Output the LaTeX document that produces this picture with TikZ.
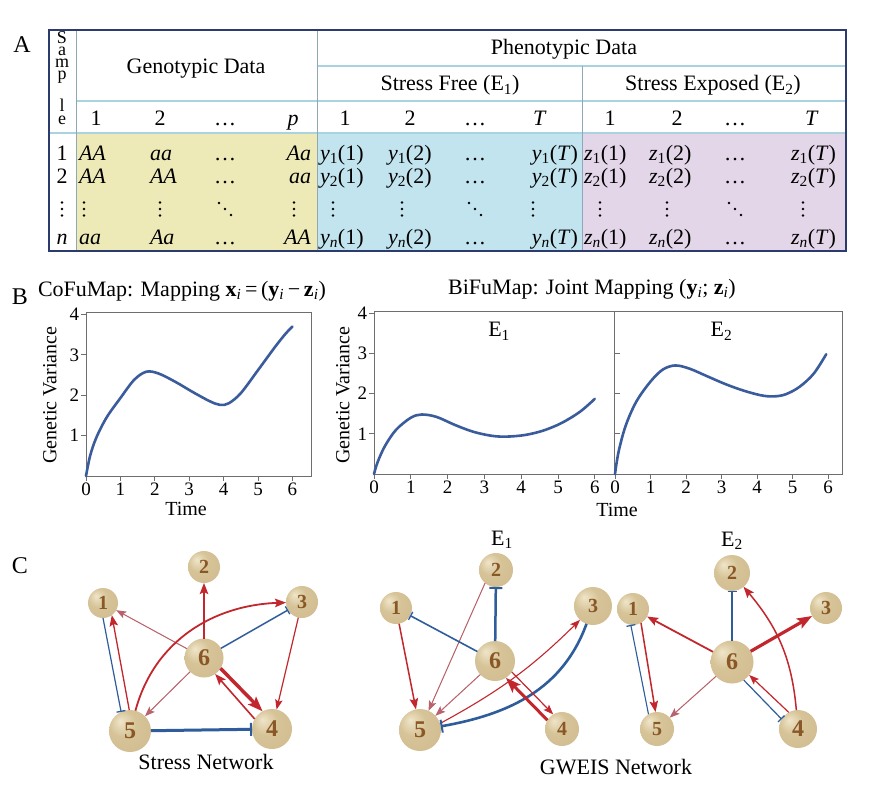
\documentclass[tikz,border=0pt]{standalone}
\usepackage{fontspec}
\setmainfont{Liberation Serif}
\usetikzlibrary{arrows.meta}
\definecolor{navy}{HTML}{2B3B6E}
\definecolor{gridb}{HTML}{A9D3DF}
\definecolor{vline}{HTML}{8FA8B8}
\definecolor{yel}{HTML}{EDEAB8}
\definecolor{cyanc}{HTML}{C2E4EF}
\definecolor{lav}{HTML}{E4D6E9}
\definecolor{curvec}{HTML}{3A5C9C}
\definecolor{axisg}{HTML}{6E6E6E}
\definecolor{netred}{HTML}{C3272E}
\definecolor{netpink}{HTML}{B9626B}
\definecolor{netblue}{HTML}{2F5C9B}
\definecolor{numbrown}{HTML}{8A5726}
\definecolor{gA}{HTML}{EFE5C9}
\definecolor{gB}{HTML}{D6C397}
\definecolor{gC}{HTML}{B99F70}
\pgfdeclareradialshading{goldball}{\pgfpoint{-12bp}{12bp}}{color(0bp)=(gA); color(16bp)=(gB); color(38bp)=(gB!80!gC); color(55bp)=(gC)}
\newcommand{\sbi}{\textsubscript{\textit{i}}}
\begin{document}
\begin{tikzpicture}[x=1pt,y=-1pt,
  every node/.style={inner sep=0pt, outer sep=0pt},
  font=\fontsize{22}{26}\selectfont,
  ball/.style={circle, shading=goldball, text=numbrown, font=\fontsize{20}{20}\selectfont\bfseries},
  ballL/.style={ball, font=\fontsize{24}{24}\selectfont\bfseries},
  ticklab/.style={font=\fontsize{19}{19}\selectfont},
  axlab/.style={font=\fontsize{20}{20}\selectfont},
  redM/.style={draw=netred, -{Stealth[length=11pt,width=8.5pt,inset=2pt]}},
  redS/.style={draw=netred, -{Stealth[length=10pt,width=7.5pt,inset=2pt]}},
  redB/.style={draw=netred, -{Stealth[length=15pt,width=11pt,inset=3pt]}},
  pinkS/.style={draw=netpink, -{Stealth[length=10pt,width=7.5pt,inset=2pt]}, fill=netred},
  blueI/.style={draw=netblue, -{Bar[width=9pt,line width=1.3pt]}},
  blueB/.style={draw=netblue, -{Bar[width=13pt,line width=2pt]}},
  curveline/.style={curvec, line width=2.6pt, line cap=round},
  vdts/.pic={\fill (0,-6.5) circle (1.4pt) (0,0) circle (1.4pt) (0,6.5) circle (1.4pt);},
  ddts/.pic={\fill (-6,-6) circle (1.4pt) (0,0) circle (1.4pt) (6,6) circle (1.4pt);}
]
\useasboundingbox (0,0) rectangle (870,792);
\fill[white] (0,0) rectangle (870,792);

% ---------------- Panel A : table ----------------
\node[anchor=base, font=\fontsize{24}{24}\selectfont] (labA) at (22,53) {A};
\fill[yel] (76,133) rectangle (317,251);
\fill[cyanc] (317,133) rectangle (582,251);
\fill[lav] (582,133) rectangle (846,251);
\draw[gridb, line width=1.3pt] (317,66) -- (846,66);
\draw[gridb, line width=1.3pt] (76,101) -- (846,101);
\draw[gridb, line width=1.3pt] (49,133) -- (846,133);
\draw[vline, line width=1pt] (76,30) -- (76,251);
\draw[vline, line width=1pt] (317,30) -- (317,251);
\draw[vline, line width=1pt] (582,66) -- (582,251);
\draw[navy, line width=2pt] (49,30) rectangle (846,251);

\node[anchor=north, align=center, font=\fontsize{18}{12}\selectfont] (smpA) at (62,32) {S\\a\\m\\p};
\node[anchor=north, align=center, font=\fontsize{18}{13}\selectfont] (smpB) at (62,99) {l\\e};

\node[anchor=base] (genohd) at (196,74) {Genotypic Data};
\node[anchor=base] (phenohd) at (564,55) {Phenotypic Data};
\node[anchor=base] (sfree) at (450,91) {Stress Free (E\textsubscript{1})};
\node[anchor=base] (sexp) at (713,91) {Stress Exposed (E\textsubscript{2})};

\foreach \xx/\tt [count=\k] in {96/1,160/2,225/…,293/\textit{p},345/1,410/2,475/…,540/\textit{T},610/1,677/2,735/…,812/\textit{T}}
  \node[anchor=base] (colh\k) at (\xx,125) {\tt};

% sample numbers
\node[anchor=base] (r1) at (62,160) {1};
\node[anchor=base] (r2) at (62,183) {2};
\pic at (62,209) {vdts};
\node[anchor=base] (r4) at (62,244) {\textit{n}};

% genotypic data
\node[anchor=base west] (g11) at (79,160) {\textit{AA}};
\node[anchor=base west] (g12) at (150,160) {\textit{aa}};
\node[anchor=base] (g13) at (225,160) {…};
\node[anchor=base east] (g14) at (311,160) {\textit{Aa}};
\node[anchor=base west] (g21) at (79,183) {\textit{AA}};
\node[anchor=base west] (g22) at (150,183) {\textit{AA}};
\node[anchor=base] (g23) at (225,183) {…};
\node[anchor=base east] (g24) at (311,183) {\textit{aa}};
\pic at (84,209) {vdts};
\pic at (160,209) {vdts};
\pic at (225,209) {ddts};
\pic at (294,209) {vdts};
\node[anchor=base west] (g41) at (79,244) {\textit{aa}};
\node[anchor=base west] (g42) at (150,244) {\textit{Aa}};
\node[anchor=base] (g43) at (225,244) {…};
\node[anchor=base east] (g44) at (311,244) {\textit{AA}};

% phenotypic data
\foreach \rr/\yy/\ss in {1/160/1,2/183/2,4/244/\textit{n}}{
  \node[anchor=base west] (y\rr a) at (320,\yy) {\textit{y}\textsubscript{\ss}(1)};
  \node[anchor=base west] (y\rr b) at (388,\yy) {\textit{y}\textsubscript{\ss}(2)};
  \node[anchor=base] (y\rr c) at (475,\yy) {…};
  \node[anchor=base east] (y\rr d) at (578,\yy) {\textit{y}\textsubscript{\ss}(\textit{T})};
  \node[anchor=base west] (z\rr a) at (584,\yy) {\textit{z}\textsubscript{\ss}(1)};
  \node[anchor=base west] (z\rr b) at (649,\yy) {\textit{z}\textsubscript{\ss}(2)};
  \node[anchor=base] (z\rr c) at (735,\yy) {…};
  \node[anchor=base east] (z\rr d) at (836,\yy) {\textit{z}\textsubscript{\ss}(\textit{T})};
}
\pic at (333,209) {vdts};
\pic at (402,209) {vdts};
\pic at (475,209) {ddts};
\pic at (533,209) {vdts};
\pic at (600,209) {vdts};
\pic at (667,209) {vdts};
\pic at (735,209) {ddts};
\pic at (803,209) {vdts};

% ---------------- Panel B ----------------
\node[anchor=base, font=\fontsize{24}{24}\selectfont] (labB) at (20,304) {B};
\node[anchor=base west] (cotitle) at (38,296) {CoFuMap: Mapping \textbf{x}\sbi\,=\,(\textbf{y}\sbi\,−\,\textbf{z}\sbi)};
\node[anchor=base] (bititle) at (592,294) {BiFuMap: Joint Mapping (\textbf{y}\sbi; \textbf{z}\sbi)};

% plot 1
\begin{scope}[shift={(86,476)}, x=34.4pt, y=40.4pt]
  \draw[axisg, line width=0.9pt] (0,0) rectangle (6.54,4.04);
  \foreach \t in {0,...,6}{
    \draw[axisg, line width=0.9pt] (\t,0) -- ([yshift=-5pt]\t,0);
    \node[anchor=north, ticklab] (pAx\t) at ([yshift=-7pt]\t,0) {\t};}
  \foreach \v in {1,...,4}{
    \draw[axisg, line width=0.9pt] (0,\v) -- ([xshift=-5pt]0,\v);
    \node[anchor=east, ticklab] (pAy\v) at ([xshift=-7pt]0,\v) {\v};}
  \draw[curveline] plot[smooth, tension=0.55] coordinates {(0,0) (0.12,0.5) (0.3,0.95) (0.6,1.45) (1,1.93) (1.4,2.38) (1.75,2.58) (2.1,2.54) (2.6,2.33) (3.1,2.08) (3.6,1.85) (3.9,1.76) (4.15,1.8) (4.5,2.05) (5,2.62) (5.5,3.2) (5.8,3.52) (6,3.7)};
\end{scope}
\node[axlab, rotate=90] (gv1) at (50,395) {Genetic Variance};
\node[axlab] (time1) at (186,509) {Time};

% plot E1
\begin{scope}[shift={(374,474)}, x=36.8pt, y=40.2pt]
  \draw[axisg, line width=0.9pt] (0,0) rectangle (6.545,4.05);
  \foreach \t in {0,...,6}{
    \draw[axisg, line width=0.9pt] (\t,0) -- ([yshift=-5pt]\t,0);
    \node[anchor=north, ticklab] (pBx\t) at ([yshift=-7pt]\t,0) {\t};}
  \foreach \v in {1,...,4}{
    \draw[axisg, line width=0.9pt] (0,\v) -- ([xshift=-5pt]0,\v);
    \node[anchor=east, ticklab] (pBy\v) at ([xshift=-7pt]0,\v) {\v};}
  \draw[curveline] plot[smooth, tension=0.55] coordinates {(0,0) (0.1,0.3) (0.3,0.7) (0.6,1.1) (1,1.4) (1.3,1.48) (1.7,1.42) (2.2,1.22) (2.7,1.05) (3.2,0.95) (3.6,0.93) (4.1,0.97) (4.6,1.08) (5.1,1.27) (5.6,1.55) (6,1.87)};
  \node (e1lab) at (3.4,3.55) {E\textsubscript{1}};
\end{scope}
% plot E2
\begin{scope}[shift={(615,474)}, x=35.5pt, y=40.2pt]
  \draw[axisg, line width=0.9pt] (6.42,0) -- (6.42,4.05) -- (0,4.05) (0,0) -- (6.42,0);
  \foreach \t in {0,...,6}{
    \draw[axisg, line width=0.9pt] (\t,0) -- ([yshift=-5pt]\t,0);
    \node[anchor=north, ticklab] (pCx\t) at ([yshift=-7pt]\t,0) {\t};}
  \foreach \v in {1,...,3}{
    \draw[axisg, line width=0.9pt] (0,\v) -- ([xshift=5pt]0,\v);}
  \draw[curveline] plot[smooth, tension=0.55] coordinates {(0,0) (0.1,0.55) (0.3,1.2) (0.6,1.8) (1,2.3) (1.35,2.6) (1.7,2.7) (2.1,2.62) (2.6,2.43) (3.1,2.24) (3.6,2.08) (4.1,1.96) (4.45,1.93) (4.8,1.98) (5.2,2.17) (5.6,2.5) (5.95,2.98)};
  \node (e2lab) at (3.0,3.55) {E\textsubscript{2}};
\end{scope}
\node[axlab, rotate=90] (gv2) at (343,395) {Genetic Variance};
\node[axlab] (time2) at (617,510) {Time};

% ---------------- Panel C ----------------
\node[anchor=base, font=\fontsize{24}{24}\selectfont] (labC) at (20,573) {C};

% stress network
\node[ball, minimum size=30pt] (S1) at (103,603) {1};
\node[ball, minimum size=32pt] (S2) at (204,567) {2};
\node[ball, minimum size=32pt] (S3) at (302,602) {3};
\node[ballL, minimum size=39pt] (S6) at (204,658) {6};
\node[ballL, minimum size=42pt] (S5) at (130,731) {5};
\node[ballL, minimum size=40pt] (S4) at (272,729) {4};
\draw[redM, line width=1.8pt] (S6) -- (S2);
\draw[pinkS, line width=1pt] (S6) -- (S1);
\draw[blueI, line width=1.5pt] (S6) -- (S3);
\draw[redS, line width=1.2pt] (S3) -- (S4);
\draw[redB, line width=3.5pt] (S6.-32) -- (S4.118);
\draw[redM, line width=1.6pt] (S4.150) -- (S6.-55);
\draw[pinkS, line width=1pt] (S6) -- (S5);
\draw[redM, line width=1.8pt] (S5) to[out=75, in=182] (S3);
\draw[redM, line width=1.3pt] (S5.92) -- (S1.-54);
\draw[blueI, line width=1.2pt] (S1.-90) -- (S5.115);
\draw[blueB, line width=3pt] (S5) -- (S4);
\node[anchor=base] (stressnet) at (206,769) {Stress Network};

% GWEIS E1
\node (lE1) at (502,540) {E\textsubscript{1}};
\node[ball, minimum size=32pt] (G1) at (396,608) {1};
\node[ball, minimum size=34pt] (G2) at (496,570) {2};
\node[ball, minimum size=38pt] (G3) at (593,606) {3};
\node[ballL, minimum size=40pt] (G6) at (495,661) {6};
\node[ballL, minimum size=42pt] (G5) at (420,730) {5};
\node[ball, minimum size=34pt] (G4) at (562,729) {4};
\draw[redM, line width=1.5pt] (G1) -- (G5);
\draw[pinkS, line width=1pt] (G2.-130) -- (G5.66);
\draw[blueB, line width=2.5pt] (G6) -- (G2);
\draw[blueI, line width=1.6pt] (G6) -- (G1);
\draw[pinkS, line width=1pt] (G6) -- (G5);
\draw[redS, line width=1.1pt] (G5.18) to[bend right=8] (G3.-133);
\draw[blueB, line width=2.6pt] (G3) to[out=-110, in=10] (G5);
\draw[redS, line width=1.2pt] (G6.-33) -- (G4.121);
\draw[redB, line width=3pt] (G4.149) -- (G6.-57);

% GWEIS E2
\node (lE2) at (732,541) {E\textsubscript{2}};
\node[ball, minimum size=32pt] (H1) at (633,609) {1};
\node[ball, minimum size=36pt] (H2) at (732,573) {2};
\node[ball, minimum size=32pt] (H3) at (826,608) {3};
\node[ballL, minimum size=43pt] (H6) at (732,662) {6};
\node[ball, minimum size=34pt] (H5) at (657,729) {5};
\node[ballL, minimum size=38pt] (H4) at (798,729) {4};
\draw[redM, line width=1.8pt] (H6) -- (H1);
\draw[blueI, line width=1.6pt] (H6) -- (H2);
\draw[redB, line width=3.2pt] (H6) -- (H3);
\draw[redM, line width=1.5pt] (H4) to[out=95, in=-50] (H2);
\draw[redM, line width=1.5pt] (H1.-60) -- (H5.95);
\draw[blueI, line width=1.1pt] (H5.120) -- (H1.-98);
\draw[pinkS, line width=1pt] (H6) -- (H5);
\draw[blueI, line width=1.2pt] (H6.-57) -- (H4.149);
\draw[redS, line width=1.2pt] (H4.119) -- (H6.-37);
\node[anchor=base] (gweisnet) at (616,774) {GWEIS Network};
\end{tikzpicture}
\end{document}
